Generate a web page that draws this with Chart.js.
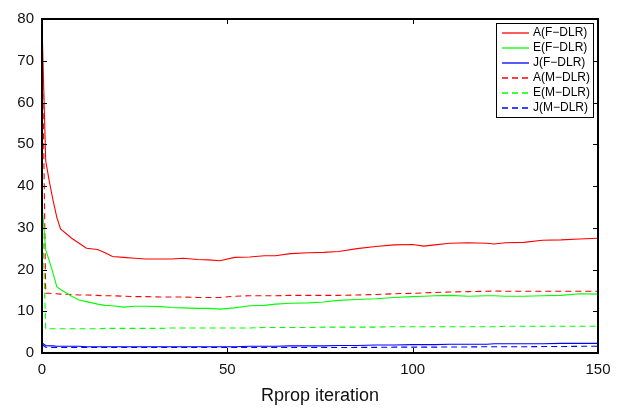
<!DOCTYPE html>
<html>
<head>
<meta charset="utf-8">
<script src="https://cdn.jsdelivr.net/npm/chart.js@4.4.1/dist/chart.umd.min.js"></script>
<style>
  html, body { margin: 0; padding: 0; background: #fff; }
  #wrap { width: 620px; height: 408px; }
</style>
</head>
<body>
<div id="wrap"><canvas id="errChart" width="620" height="408"></canvas></div>
<script>
const iterations = [0, 1, 2, 3, 4, 5, 8, 10, 12, 15, 17, 19, 22, 25, 28, 32, 35, 38, 42, 45, 48, 52, 56, 60, 63, 67, 72, 76, 80, 85, 90, 95, 100, 103, 106, 110, 115, 120, 122, 125, 130, 135, 140, 145, 150];

const aFdlr = [78.8, 46, 41, 36.5, 32.5, 29.7, 27.5, 26.3, 25.1, 24.8, 24.0, 23.1, 22.9, 22.7, 22.5, 22.5, 22.5, 22.7, 22.4, 22.3, 22.1, 22.9, 23.0, 23.3, 23.3, 23.8, 24.0, 24.1, 24.3, 25.0, 25.5, 25.9, 26.0, 25.6, 25.9, 26.3, 26.4, 26.3, 26.1, 26.4, 26.5, 27.0, 27.1, 27.3, 27.5];
const eFdlr = [35.8, 24.7, 22, 19, 15.9, 15.2, 13.6, 12.7, 12.3, 11.7, 11.4, 11.3, 11.0, 11.2, 11.2, 11.1, 10.9, 10.8, 10.7, 10.7, 10.5, 10.8, 11.3, 11.4, 11.7, 11.9, 12.0, 12.2, 12.6, 12.8, 13.0, 13.3, 13.5, 13.6, 13.7, 13.8, 13.6, 13.7, 13.7, 13.6, 13.6, 13.7, 13.8, 14.2, 14.1];
const jFdlr = [2.4, 1.8, 1.7, 1.7, 1.6, 1.6, 1.6, 1.6, 1.5, 1.5, 1.5, 1.5, 1.5, 1.5, 1.5, 1.5, 1.5, 1.5, 1.5, 1.5, 1.5, 1.5, 1.6, 1.6, 1.6, 1.7, 1.7, 1.7, 1.8, 1.8, 1.9, 1.9, 2.0, 2.0, 2.0, 2.1, 2.1, 2.1, 2.2, 2.2, 2.2, 2.2, 2.3, 2.3, 2.3];
const aMdlr = [79, 14.3, 14.3, 14.2, 14.2, 14.1, 14.0, 13.9, 13.9, 13.8, 13.7, 13.7, 13.6, 13.5, 13.5, 13.4, 13.4, 13.4, 13.3, 13.3, 13.3, 13.6, 13.7, 13.7, 13.7, 13.8, 13.8, 13.8, 13.8, 13.9, 14.0, 14.2, 14.3, 14.4, 14.5, 14.6, 14.7, 14.8, 14.85, 14.8, 14.8, 14.8, 14.8, 14.8, 14.8];
const eMdlr = [36, 5.8, 5.8, 5.8, 5.8, 5.8, 5.8, 5.8, 5.8, 5.8, 5.9, 5.9, 5.9, 5.9, 5.9, 5.9, 6.0, 6.0, 6.0, 6.0, 6.0, 6.0, 6.0, 6.1, 6.1, 6.1, 6.1, 6.2, 6.2, 6.2, 6.2, 6.3, 6.3, 6.3, 6.3, 6.3, 6.3, 6.3, 6.3, 6.4, 6.4, 6.4, 6.4, 6.4, 6.4];
const jMdlr = [2.0, 1.4, 1.3, 1.3, 1.3, 1.3, 1.3, 1.3, 1.3, 1.3, 1.3, 1.3, 1.3, 1.3, 1.3, 1.3, 1.3, 1.3, 1.3, 1.3, 1.3, 1.3, 1.3, 1.3, 1.3, 1.3, 1.3, 1.3, 1.3, 1.35, 1.35, 1.4, 1.4, 1.4, 1.4, 1.45, 1.45, 1.5, 1.5, 1.5, 1.5, 1.55, 1.55, 1.6, 1.6];

const seriesLabels = ["A(F\u2212DLR)", "E(F\u2212DLR)", "J(F\u2212DLR)", "A(M\u2212DLR)", "E(M\u2212DLR)", "J(M\u2212DLR)"];
const seriesValues = [aFdlr, eFdlr, jFdlr, aMdlr, eMdlr, jMdlr];
const seriesColors = ["#ff0000", "#00ff00", "#0000ff", "#ff0000", "#00ff00", "#0000ff"];
const seriesDashed = [false, false, false, true, true, true];

const xTicks = [0, 50, 100, 150];
const yTicks = [0, 10, 20, 30, 40, 50, 60, 70, 80];

const FONT = "'Liberation Sans', Arial, Helvetica, sans-serif";
const DASH = [6, 4];

const toPoints = (vals) => iterations.map((x, i) => ({ x: x, y: vals[i] }));

// frame with inward ticks on all four sides, matlab style
const framePlugin = {
    id: "frame",
    afterDatasetsDraw(chart) {
        const { ctx, chartArea: a, scales } = chart;
        ctx.save();
        ctx.strokeStyle = "#000";
        ctx.lineWidth = 2;
        ctx.setLineDash([]);
        ctx.strokeRect(Math.round(a.left), Math.round(a.top), Math.round(a.right - a.left), Math.round(a.bottom - a.top));
        ctx.lineWidth = 1;
        const len = 5;
        ctx.beginPath();
        yTicks.forEach((v) => {
            const y = Math.round(scales.y.getPixelForValue(v)) + 0.5;
            ctx.moveTo(a.left, y); ctx.lineTo(a.left + len, y);
            ctx.moveTo(a.right, y); ctx.lineTo(a.right - len, y);
        });
        xTicks.forEach((v) => {
            const x = Math.round(scales.x.getPixelForValue(v)) + 0.5;
            ctx.moveTo(x, a.bottom); ctx.lineTo(x, a.bottom - len);
            ctx.moveTo(x, a.top); ctx.lineTo(x, a.top + len);
        });
        ctx.stroke();
        ctx.restore();
    },
};

// legend box inside the top right corner
const legendPlugin = {
    id: "boxLegend",
    afterDraw(chart) {
        const { ctx, chartArea: a } = chart;
        const w = 97, rowH = 15, h = rowH * seriesLabels.length + 4;
        const left = Math.round(a.right - 5 - w), top = Math.round(a.top + 4);
        ctx.save();
        ctx.fillStyle = "#fff";
        ctx.fillRect(left, top, w, h);
        ctx.strokeStyle = "#000";
        ctx.lineWidth = 1;
        ctx.setLineDash([]);
        ctx.strokeRect(left + 0.5, top + 0.5, w, h);
        ctx.font = "12px " + FONT;
        ctx.textBaseline = "middle";
        ctx.textAlign = "left";
        seriesLabels.forEach((label, i) => {
            const y = top + 10 + i * rowH;
            ctx.strokeStyle = seriesColors[i];
            ctx.lineWidth = 1.3;
            ctx.setLineDash(seriesDashed[i] ? DASH : []);
            ctx.beginPath();
            ctx.moveTo(left + 6, y);
            ctx.lineTo(left + 33, y);
            ctx.stroke();
            ctx.fillStyle = "#000";
            ctx.fillText(label, left + 37, y);
        });
        ctx.restore();
    },
};

new Chart(document.getElementById("errChart").getContext("2d"), {
    type: "line",
    data: {
        datasets: seriesLabels.map((label, i) => ({
            label: label,
            data: toPoints(seriesValues[i]),
            borderColor: seriesColors[i],
            backgroundColor: seriesColors[i],
            borderWidth: 1.1,
            borderDash: seriesDashed[i] ? DASH : [],
            pointRadius: 0,
            tension: 0,
            fill: false,
        })),
    },
    options: {
        responsive: false,
        animation: false,
        layout: { padding: { top: 19, right: 22, left: 0, bottom: 0 } },
        plugins: { legend: { display: false }, tooltip: { enabled: false } },
        scales: {
            x: {
                type: "linear",
                min: 0,
                max: 150,
                afterFit: (s) => { s.height = 55; },
                afterBuildTicks: (s) => { s.ticks = xTicks.map((v) => ({ value: v })); },
                grid: { display: false, drawTicks: false },
                border: { display: false },
                ticks: { color: "#111", padding: 8, font: { family: FONT, size: 15 } },
                title: {
                    display: true,
                    text: "Rprop iteration",
                    color: "#111",
                    padding: { top: 0, bottom: 1 },
                    font: { family: FONT, size: 18 },
                },
            },
            y: {
                min: 0,
                max: 80,
                afterFit: (s) => { s.width = 42; },
                afterBuildTicks: (s) => { s.ticks = yTicks.map((v) => ({ value: v })); },
                grid: { display: false, drawTicks: false },
                border: { display: false },
                ticks: { color: "#111", padding: 8, font: { family: FONT, size: 15 } },
            },
        },
    },
    plugins: [framePlugin, legendPlugin],
});
</script>
</body>
</html>
